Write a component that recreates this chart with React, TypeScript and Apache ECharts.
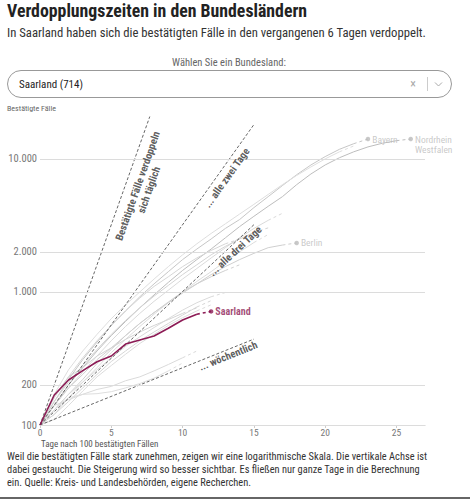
import React, { useEffect, useRef } from "react";
import * as echarts from "echarts";

const FONT = "'Liberation Sans Narrow', 'Arial Narrow', 'Roboto Condensed', Roboto, sans-serif";

// y axis (log) tick values and labels
const yTickValues = [100, 200, 1000, 2000, 10000];
const yTickLabels = ["100", "200", "1.000", "2.000", "10.000"];

// Saarland: confirmed cases per day since the 100th case
const saarlandValues = [100, 168, 218, 256, 299, 330, 406, 436, 467, 533, 616, 680, 714];

// other federal states (grey)
const bayernValues = [100, 150, 220, 310, 420, 560, 720, 920, 1150, 1420, 1750, 2100, 2500, 3000, 3500, 4300, 5200, 6300, 7600, 9000, 10400, 11800, 13000, 14100];
const nrwValues = [100, 140, 200, 270, 360, 470, 600, 760, 950, 1180, 1450, 1750, 2100, 2550, 3100, 3700, 4400, 5200, 6400, 7700, 9000, 10200, 11300, 12300, 13100, 13700, 14100];
const bwValues = [100, 170, 260, 360, 480, 630, 800, 1000, 1250, 1550, 1900, 2300, 2750, 3250, 3850, 4550, 5400, 6400, 7500, 8700, 10000, 11300, 12500];
const berlinValues = [100, 130, 170, 220, 290, 370, 470, 580, 700, 830, 980, 1150, 1350, 1550, 1750, 1950, 2150, 2250, 2335];
const niedersachsenValues = [100, 140, 190, 250, 330, 430, 550, 690, 850, 1030, 1250, 1500, 1800, 2150, 2550, 3000, 3450, 3900];
const hessenValues = [100, 150, 210, 280, 370, 480, 610, 760, 930, 1120, 1350, 1600, 1900, 2200, 2500, 2800, 3030];
const rlpValues = [100, 120, 160, 210, 270, 350, 440, 550, 680, 830, 1000, 1200, 1420, 1700, 2000, 2350, 2700];
const hamburgValues = [100, 160, 230, 320, 430, 560, 720, 900, 1100, 1300, 1550, 1800, 2050, 2300, 2500];
const sachsenValues = [100, 140, 190, 240, 310, 380, 470, 580, 700, 840, 1000, 1150, 1300, 1450, 1600];
const shValues = [100, 130, 170, 210, 260, 320, 390, 460, 540, 630, 730, 830, 920, 990];
const brandenburgValues = [100, 120, 150, 190, 240, 300, 360, 430, 500, 580, 670, 770, 860];
const thueringenValues = [100, 110, 140, 180, 230, 280, 340, 410, 480, 560, 640, 720, 800];
const sachsenAnhaltValues = [100, 165, 230, 270, 330, 380, 440, 500, 560, 620, 690, 760];
const bremenValues = [100, 140, 155, 170, 185, 195, 215, 230, 255, 285, 320, 360];
const mvValues = [100, 130, 160, 170, 172, 178, 190, 205, 225, 255, 292];

const greyStates = [
  { name: "Bayern", values: bayernValues, color: "#c6c6c6", label: "Bayern" },
  { name: "Nordrhein-Westfalen", values: nrwValues, color: "#bdbdbd", label: "Nordrhein\nWestfalen" },
  { name: "Baden-Württemberg", values: bwValues, color: "#dedede" },
  { name: "Berlin", values: berlinValues, color: "#cfcfcf", label: "Berlin" },
  { name: "Niedersachsen", values: niedersachsenValues, color: "#dadada" },
  { name: "Hessen", values: hessenValues, color: "#d4d4d4" },
  { name: "Rheinland-Pfalz", values: rlpValues, color: "#dcdcdc" },
  { name: "Hamburg", values: hamburgValues, color: "#d6d6d6" },
  { name: "Sachsen", values: sachsenValues, color: "#d0d0d0" },
  { name: "Schleswig-Holstein", values: shValues, color: "#dadada" },
  { name: "Brandenburg", values: brandenburgValues, color: "#d6d6d6" },
  { name: "Thüringen", values: thueringenValues, color: "#dcdcdc" },
  { name: "Sachsen-Anhalt", values: sachsenAnhaltValues, color: "#d3d3d3" },
  { name: "Bremen", values: bremenValues, color: "#dadada" },
  { name: "Mecklenburg-Vorpommern", values: mvValues, color: "#dedede" },
];

// doubling guide lines: endpoints [day, cases] and label anchor
const guideTaeglich = { start: [0, 100], end: [7.7, 20800], labelAt: [7.25, 6050], rotate: 70.6, text: "Bestätigte Fälle verdoppeln\nsich täglich" };
const guideZwei = { start: [0, 100], end: [15, 18100], labelAt: [13.1, 7200], rotate: 54.6, text: "... alle zwei Tage" };
const guideDrei = { start: [0, 100], end: [15, 3200], labelAt: [13.7, 2030], rotate: 43.1, text: "... alle drei Tage" };
const guideWoche = { start: [0, 100], end: [15, 442], labelAt: [13.2, 330], rotate: 21.9, text: "... wöchentlich" };
const guides = [guideTaeglich, guideZwei, guideDrei, guideWoche];

const SAAR = "#8c1b55";

const toPoints = (vals: number[]) => vals.map((v, i) => [i, v]);

export default function App() {
  const ref = useRef<HTMLDivElement>(null);
  useEffect(() => {
    if (!ref.current) return;
    const chart = echarts.init(ref.current, undefined, { renderer: "svg" });
    const series: any[] = [];

    // grid lines with labels
    series.push({
      type: "line",
      data: [],
      z: 1,
      silent: true,
      markLine: {
        silent: true,
        symbol: ["none", "none"],
        animation: false,
        lineStyle: { color: "#dcdcdc", type: "solid", width: 1 },
        label: { position: "start", formatter: "{b}", distance: 3, color: "#777", fontSize: 10.5, fontFamily: FONT },
        emphasis: { disabled: true },
        data: yTickValues.map((v, i) => ({ yAxis: v, name: yTickLabels[i] })),
      },
    });

    greyStates.forEach((s) => {
      const pts = toPoints(s.values);
      series.push({
        type: "line", name: s.name, data: pts.slice(0, -1), symbol: "none", z: 3, silent: true,
        lineStyle: { color: s.color, width: 1 },
      });
      series.push({
        type: "line", name: s.name + "-end", data: pts.slice(-2), symbol: "none", z: 3, silent: true,
        lineStyle: { color: s.color, width: 1, type: [3, 3] },
      });
    });

    guides.forEach((g, i) => {
      series.push({
        type: "line", name: "guide" + i, data: [g.start, g.end], symbol: "none", z: 4, silent: true,
        lineStyle: { color: "#555", width: 0.9, type: [3, 2] },
      });
    });

    series.push({
      type: "scatter", name: "guide-labels", symbolSize: 0, z: 6, silent: true,
      data: guides.map((g) => ({ value: g.labelAt, label: { formatter: g.text, rotate: g.rotate } })),
      label: {
        show: true, position: "inside", color: "#333", fontWeight: "bold", fontSize: 10.5,
        fontFamily: FONT, lineHeight: 12, align: "center", verticalAlign: "middle",
      },
    });

    const saarPts = toPoints(saarlandValues);
    series.push({
      type: "line", name: "Saarland", data: saarPts.slice(0, -1), symbol: "none", z: 8, silent: true,
      lineStyle: { color: SAAR, width: 1.6 },
    });
    series.push({
      type: "line", name: "Saarland-end", data: saarPts.slice(-2), symbol: "none", z: 8, silent: true,
      lineStyle: { color: SAAR, width: 1.6, type: [3, 3] },
    });

    // end dots & labels
    const labelled = greyStates.filter((s) => s.label);
    series.push({
      type: "scatter", name: "end-labels", symbol: "circle", symbolSize: 4.5, z: 7, silent: true,
      itemStyle: { color: "#bbb" },
      data: labelled.map((s) => ({
        value: [s.values.length - 1, s.values[s.values.length - 1]],
        label: { formatter: s.label },
      })),
      label: {
        show: true, position: "right", distance: 2, color: "#bbb", fontSize: 9.5, fontFamily: FONT,
        lineHeight: 10, verticalAlign: "top", offset: [0, -5],
      },
    });
    series.push({
      type: "scatter", name: "saar-label", symbol: "circle", symbolSize: 4.5, z: 9, silent: true,
      itemStyle: { color: SAAR },
      data: [[saarlandValues.length - 1, saarlandValues[saarlandValues.length - 1]]],
      label: {
        show: true, position: "right", distance: 2, color: SAAR, fontSize: 10, fontWeight: "bold",
        fontFamily: FONT, formatter: "Saarland",
      },
    });

    const footnote =
      "Weil die bestätigten Fälle stark zunehmen, zeigen wir eine logarithmische Skala. Die vertikale Achse ist\n" +
      "dabei gestaucht. Die Steigerung wird so besser sichtbar. Es fließen nur ganze Tage in die Berechnung\n" +
      "ein. Quelle: Kreis- und Landesbehörden, eigene Recherchen.";

    chart.setOption({
      animation: false,
      backgroundColor: "#fff",
      textStyle: { fontFamily: FONT },
      grid: { left: 40, right: 45, top: 116, bottom: 75, containLabel: false },
      xAxis: {
        type: "value", min: 0, max: 27, interval: 5,
        axisLine: { show: true, lineStyle: { color: "#ccc", width: 1 } },
        axisTick: { show: true, length: 3, lineStyle: { color: "#ccc" } },
        axisLabel: { color: "#777", fontSize: 9.5, margin: 2, fontFamily: FONT, showMaxLabel: false },
        splitLine: { show: false },
      },
      yAxis: {
        type: "log", logBase: 10, min: 100, max: 21000,
        axisLine: { show: false }, axisTick: { show: false }, axisLabel: { show: false },
        splitLine: { show: false },
      },
      series,
      graphic: [
        { type: "text", left: 7, top: 1, style: { text: "Verdopplungszeiten in den Bundesländern", font: `bold 17.8px ${FONT}`, fill: "#222" } },
        { type: "text", left: 7, top: 26, style: { text: "In Saarland haben sich die bestätigten Fälle in den vergangenen 6 Tagen verdoppelt.", font: `12.7px ${FONT}`, fill: "#333" } },
        { type: "text", x: 229, y: 62, style: { text: "Wählen Sie ein Bundesland:", font: `10.5px ${FONT}`, fill: "#666", align: "center", verticalAlign: "middle" } },
        { type: "rect", shape: { x: 7.5, y: 70.5, width: 444, height: 27, r: 13.5 }, style: { fill: "#fff", stroke: "#999", lineWidth: 1 } },
        { type: "text", x: 19, y: 84, style: { text: "Saarland (714)", font: `11px ${FONT}`, fill: "#222", verticalAlign: "middle" } },
        { type: "text", x: 413, y: 84, style: { text: "×", font: `12px ${FONT}`, fill: "#aaa", align: "center", verticalAlign: "middle" } },
        { type: "line", shape: { x1: 427.5, y1: 77, x2: 427.5, y2: 91 }, style: { stroke: "#ccc", lineWidth: 1 } },
        { type: "polyline", shape: { points: [[435, 82.5], [438.5, 86], [442, 82.5]] }, style: { stroke: "#aaa", lineWidth: 1, fill: null } },
        { type: "text", x: 7, y: 108, style: { text: "Bestätigte Fälle", font: `8px ${FONT}`, fill: "#666", verticalAlign: "middle" } },
        { type: "text", x: 41, y: 444, style: { text: "Tage nach 100 bestätigten Fällen", font: `9px ${FONT}`, fill: "#555", verticalAlign: "middle" } },
        { type: "text", x: 7, y: 450, style: { text: footnote, font: `10.4px ${FONT}`, fill: "#333", lineHeight: 13, verticalAlign: "top" } },
        { type: "rect", shape: { x: 0, y: 497, width: 470, height: 2 }, style: { fill: "#666" } },
      ],
    });
    return () => chart.dispose();
  }, []);
  return <div ref={ref} style={{ position: "fixed", left: 0, top: 0, width: 470, height: 500, background: "#fff" }} />;
}
